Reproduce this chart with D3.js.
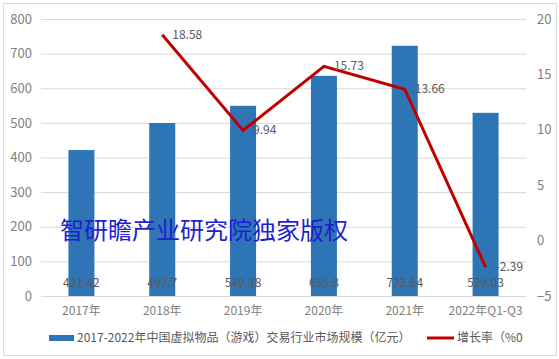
<html><head>
<meta charset="utf-8">
<script src="https://d3js.org/d3.v7.min.js"></script>
<style>
  body { margin: 0; background: #fff; }
  svg text { font-family: "Noto Sans CJK SC", "DejaVu Sans", sans-serif; }
  .grid line { stroke: #d9d9d9; }
  .grid .domain { stroke: none; }
  .tick text { fill: #7f7f7f; }
</style>
</head>
<body>
<svg id="chart" width="559" height="359"></svg>
<script>
// data
let years = ["2017年", "2018年", "2019年", "2020年", "2021年", "2022年Q1-Q3"];
let marketSize = [421.42, 499.7, 549.38, 635.8, 722.64, 529.03];
let growthRate = [null, 18.58, 9.94, 15.73, 13.66, -2.39];
let leftTicks = [0, 100, 200, 300, 400, 500, 600, 700, 800];
let rightTicks = [-5, 0, 5, 10, 15, 20];
let barName = "2017-2022年中国虚拟物品（游戏）交易行业市场规模（亿元）";
let lineName = "增长率（%0";

// 1. Housekeeping
let svg = d3.select("svg#chart");
let margin = { top: 19, right: 33, bottom: 63, left: 41 };
let chartWidth = 559 - margin.left - margin.right;
let chartHeight = 359 - margin.top - margin.bottom;

// outer border
svg.append("rect")
  .attr("x", 3.5).attr("y", 3.5)
  .attr("width", 553).attr("height", 352)
  .attr("fill", "none").attr("stroke", "#d9d9d9");

let g = svg.append("g").attr("transform", "translate(" + margin.left + "," + margin.top + ")");

// 2. Scales
let xScale = d3.scaleBand().domain(years).range([0, chartWidth]);
let yLeft = d3.scaleLinear().domain([0, 800]).range([chartHeight, 0]);
let yRight = d3.scaleLinear().domain([-5, 20]).range([chartHeight, 0]);

// gridlines
g.append("g").attr("class", "grid")
  .call(d3.axisLeft(yLeft).tickValues(leftTicks).tickSize(-chartWidth).tickFormat(""));

// left axis labels
let leftAxis = g.append("g")
  .call(d3.axisLeft(yLeft).tickValues(leftTicks).tickSize(0).tickPadding(9));
leftAxis.select(".domain").remove();
leftAxis.selectAll("text").style("font-size", "13px");

// right axis labels
let rightAxis = g.append("g")
  .attr("transform", "translate(" + chartWidth + ",0)")
  .call(d3.axisRight(yRight).tickValues(rightTicks).tickSize(0).tickPadding(11));
rightAxis.select(".domain").remove();
rightAxis.selectAll("text").style("font-size", "13px");

// 3. Bars
let barW = 26;
g.selectAll("rect.bar").data(marketSize).enter().append("rect")
  .attr("class", "bar")
  .attr("x", (d, i) => xScale(years[i]) + xScale.bandwidth() / 2 - barW / 2)
  .attr("y", d => yLeft(d))
  .attr("width", barW)
  .attr("height", d => chartHeight - yLeft(d))
  .attr("fill", "#2e75b6");

// bottom axis
let xAxis = g.append("g")
  .attr("transform", "translate(0," + chartHeight + ")")
  .call(d3.axisBottom(xScale).tickSize(0).tickPadding(10));
xAxis.select(".domain").attr("stroke", "#d9d9d9");
xAxis.selectAll("text").style("font-size", "12px").attr("fill", "#7f7f7f");

// bar value labels
g.selectAll("text.barlabel").data(marketSize).enter().append("text")
  .attr("class", "barlabel")
  .attr("x", (d, i) => xScale(years[i]) + xScale.bandwidth() / 2)
  .attr("y", chartHeight - 9)
  .attr("text-anchor", "middle")
  .style("font-size", "12px")
  .attr("fill", "#595959")
  .text(d => d);

// 4. Line
let pts = growthRate.map((d, i) => ({ x: xScale(years[i]) + xScale.bandwidth() / 2, v: d }))
  .filter(d => d.v !== null);
let line = d3.line().x(d => d.x).y(d => yRight(d.v));
g.append("path").datum(pts)
  .attr("d", line)
  .attr("fill", "none")
  .attr("stroke", "#c00000")
  .attr("stroke-width", 3);

g.selectAll("text.linelabel").data(pts).enter().append("text")
  .attr("class", "linelabel")
  .attr("x", d => d.x + 10)
  .attr("y", d => yRight(d.v) + 4)
  .style("font-size", "12px")
  .attr("fill", "#595959")
  .text(d => d.v);

// watermark
svg.append("text")
  .attr("x", 60).attr("y", 239)
  .style("font-size", "24px")
  .attr("fill", "#1f1fd0")
  .text("智研瞻产业研究院独家版权");

// 5. Legend
let legend = svg.append("g").attr("transform", "translate(0,338)");
legend.append("rect").attr("x", 49).attr("y", -3).attr("width", 25).attr("height", 6).attr("fill", "#2e75b6");
legend.append("text").attr("x", 77).attr("y", 4).style("font-size", "12px").attr("fill", "#595959").text(barName);
legend.append("line").attr("x1", 427).attr("x2", 454).attr("y1", 0).attr("y2", 0)
  .attr("stroke", "#c00000").attr("stroke-width", 3);
legend.append("text").attr("x", 457).attr("y", 4).style("font-size", "12px").attr("fill", "#595959").text(lineName);
</script>
</body>
</html>
